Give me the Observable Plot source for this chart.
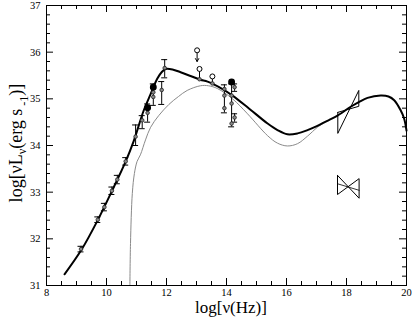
<!DOCTYPE html>
<html>
<head>
<meta charset="utf-8">
<script src="https://cdn.jsdelivr.net/npm/d3@7"></script>
<script src="https://cdn.jsdelivr.net/npm/@observablehq/plot@0.6"></script>
<style>
  html, body { margin: 0; padding: 0; background: white; }
  #chart { width: 414px; height: 320px; }
  #chart svg, #chart svg text { font-family: "Liberation Serif", "DejaVu Serif", serif !important; }
</style>
</head>
<body>
<div id="chart"></div>
<script>
// ---- tick labels ----
const xTickLabels = [8, 10, 12, 14, 16, 18, 20];
const yTickLabels = [31, 32, 33, 34, 35, 36, 37];

// ---- total model (thick black curve) ----
const modelNu = [8.6, 9.17, 9.7, 10.2, 10.64, 10.91, 11.24, 11.47, 11.69, 11.85, 11.97, 12.2, 12.47, 12.8, 13.13, 13.37, 13.87, 14.2, 14.7, 15.37, 15.7, 16.03, 16.37, 16.7, 17.03, 17.4, 17.7, 18.14, 18.41, 18.7, 19.14, 19.4, 19.59, 19.8, 19.92, 20.0];
const modelL  = [31.24, 31.77, 32.39, 33.05, 33.66, 34.1, 34.75, 35.1, 35.43, 35.58, 35.64, 35.63, 35.57, 35.49, 35.41, 35.37, 35.21, 35.07, 34.82, 34.47, 34.33, 34.24, 34.26, 34.33, 34.42, 34.54, 34.64, 34.83, 34.93, 35.02, 35.07, 35.05, 34.97, 34.76, 34.58, 34.32];

// ---- component model (thin grey curve) ----
const hostNu = [10.78, 10.8, 10.86, 10.93, 11.02, 11.13, 11.3, 11.47, 11.74, 12.08, 12.4, 12.69, 13.13, 13.4, 13.7, 14.2, 14.7, 15.37, 15.7, 16.03, 16.37, 16.7, 17.03, 17.3];
const hostL  = [31.0, 31.9, 32.97, 33.4, 33.66, 33.8, 34.12, 34.39, 34.64, 34.88, 35.05, 35.18, 35.28, 35.28, 35.22, 35.0, 34.68, 34.21, 34.05, 33.99, 34.04, 34.2, 34.39, 34.5];

// ---- radio points (with small error bars) ----
const radioNu  = [9.15, 9.71, 9.93, 10.18, 10.36, 10.64];
const radioL   = [31.78, 32.41, 32.68, 33.03, 33.27, 33.66];
const radioErr = [0.06, 0.06, 0.08, 0.08, 0.09, 0.08];

// ---- mm / IR / optical points with error bars ----
const barNu = [10.97, 11.19, 11.37, 11.56, 11.84, 11.94, 13.93, 14.17, 14.27, 14.27];
const barL  = [34.19, 34.54, 34.70, 35.04, 35.19, 35.66, 35.21, 35.07, 35.25, 34.60];
const barLo = [34.00, 34.36, 34.50, 34.86, 34.88, 35.45, 34.70, 34.40, 35.16, 34.50];
const barHi = [34.44, 34.64, 34.89, 35.32, 35.37, 35.84, 35.30, 35.32, 35.32, 34.68];

// ---- further measurements without own bars ----
const extraNu = [11.56, 13.93, 13.93, 14.17, 14.17, 13.1, 13.53];
const extraL  = [35.14, 35.07, 34.80, 34.90, 34.47, 35.42, 35.33];

// ---- filled circles ----
const filledNu = [11.37, 11.56, 14.17];
const filledL  = [34.81, 35.25, 35.36];

// ---- open circles (with drop line to model) ----
const openNu = [13.1, 13.53];
const openL  = [35.64, 35.48];
const openTo = [35.42, 35.33];

// ---- upper limit ----
const limNu = [13.02];
const limL  = [36.04];
const limTo = [35.80];

// ---- X-ray bow ties ----
const bowNuLeft  = [17.71, 17.70];
const bowNuRight = [18.41, 18.42];
const bowLeftLo  = [34.26, 32.95];
const bowLeftHi  = [34.71, 33.36];
const bowRightLo = [34.84, 32.87];
const bowRightHi = [35.18, 33.29];
const bowMidLeft  = [null, 33.18];
const bowMidRight = [null, 33.04];

// ---- build tables from arrays ----
const model = modelNu.map((v, i) => ({nu: v, L: modelL[i]}));
const host = hostNu.map((v, i) => ({nu: v, L: hostL[i]}));
const radio = radioNu.map((v, i) => ({nu: v, L: radioL[i], lo: radioL[i] - radioErr[i], hi: radioL[i] + radioErr[i]}));
const bars = barNu.map((v, i) => ({nu: v, L: barL[i], lo: barLo[i], hi: barHi[i]}));
const allBars = radio.concat(bars);
const extra = extraNu.map((v, i) => ({nu: v, L: extraL[i]}));
const filled = filledNu.map((v, i) => ({nu: v, L: filledL[i]}));
const open = openNu.map((v, i) => ({nu: v, L: openL[i], to: openTo[i]}));
const lim = limNu.map((v, i) => ({nu: v, L: limL[i], to: limTo[i]}));
const bowPts = [];
const bowMid = [];
bowNuLeft.forEach((nl, b) => {
  const nr = bowNuRight[b];
  bowPts.push({b, nu: nl, L: bowLeftHi[b]});
  bowPts.push({b, nu: nr, L: bowRightLo[b]});
  bowPts.push({b, nu: nr, L: bowRightHi[b]});
  bowPts.push({b, nu: nl, L: bowLeftLo[b]});
  bowPts.push({b, nu: nl, L: bowLeftHi[b]});
  if (bowMidLeft[b] != null) {
    bowMid.push({b, nu: nl, L: bowMidLeft[b]});
    bowMid.push({b, nu: nr, L: bowMidRight[b]});
  }
});

// ---- frame ticks ----
const W = 414, H = 320;
const mT = 5, mR = 8, mB = 35, mL = 46;
const innerW = W - mL - mR, innerH = H - mT - mB;
const xMajor = xTickLabels;
const xMinor = d3.range(8, 20.001, 0.5).filter(v => Math.abs(v / 2 - Math.round(v / 2)) > 1e-6);
const yMajor = yTickLabels;
const yMinor = d3.range(31, 37.001, 0.2).filter(v => Math.abs(v - Math.round(v)) > 1e-6);
const majLen = 7, minLen = 4;
const cap = 0.1;
const serif = "Liberation Serif";

const plot = Plot.plot({
  width: W, height: H,
  marginTop: mT, marginRight: mR, marginBottom: mB, marginLeft: mL,
  x: {domain: [8, 20]},
  y: {domain: [31, 37]},
  style: {fontFamily: serif, fontSize: "11px", background: "white", color: "black"},
  marks: [
    // inward ticks on all four sides
    Plot.tickX(xMajor, {x: d => d, insetTop: innerH - majLen, stroke: "black"}),
    Plot.tickX(xMinor, {x: d => d, insetTop: innerH - minLen, stroke: "black"}),
    Plot.tickX(xMajor, {x: d => d, insetBottom: innerH - majLen, stroke: "black"}),
    Plot.tickX(xMinor, {x: d => d, insetBottom: innerH - minLen, stroke: "black"}),
    Plot.tickY(yMajor, {y: d => d, insetRight: innerW - majLen, stroke: "black"}),
    Plot.tickY(yMinor, {y: d => d, insetRight: innerW - minLen, stroke: "black"}),
    Plot.tickY(yMajor, {y: d => d, insetLeft: innerW - majLen, stroke: "black"}),
    Plot.tickY(yMinor, {y: d => d, insetLeft: innerW - minLen, stroke: "black"}),
    Plot.axisX(xTickLabels, {tickSize: 0, tickPadding: 3, label: null, fontSize: 10.5, fontFamily: serif}),
    Plot.axisY(yTickLabels, {tickSize: 0, tickPadding: 6, label: null, fontSize: 10.5, fontFamily: serif}),
    // models
    Plot.line(host, {x: "nu", y: "L", stroke: "#8a8a8a", strokeWidth: 1, curve: "catmull-rom"}),
    Plot.line(model, {x: "nu", y: "L", stroke: "black", strokeWidth: 2, curve: "catmull-rom"}),
    // bow ties
    Plot.line(bowPts, {x: "nu", y: "L", z: "b", stroke: "black", strokeWidth: 1}),
    Plot.line(bowMid, {x: "nu", y: "L", z: "b", stroke: "black", strokeWidth: 0.8}),
    // error bars
    Plot.ruleX(allBars, {x: "nu", y1: "lo", y2: "hi", stroke: "black", strokeWidth: 1}),
    Plot.ruleY(allBars, {y: "lo", x1: d => d.nu - cap, x2: d => d.nu + cap, stroke: "black", strokeWidth: 1}),
    Plot.ruleY(allBars, {y: "hi", x1: d => d.nu - cap, x2: d => d.nu + cap, stroke: "black", strokeWidth: 1}),
    // drop lines and upper limit arrow
    Plot.ruleX(open, {x: "nu", y1: "L", y2: "to", stroke: "black", strokeWidth: 1}),
    Plot.arrow(lim, {x1: "nu", y1: "L", x2: "nu", y2: "to", insetStart: 3, headLength: 5, stroke: "black", strokeWidth: 1}),
    // points
    Plot.dot(allBars, {x: "nu", y: "L", r: 1.8, fill: "#888", stroke: "#222", strokeWidth: 0.8}),
    Plot.dot(extra, {x: "nu", y: "L", r: 1.8, fill: "#888", stroke: "#222", strokeWidth: 0.8}),
    Plot.dot(open, {x: "nu", y: "L", r: 2.5, fill: "white", stroke: "black", strokeWidth: 1}),
    Plot.dot(lim, {x: "nu", y: "L", r: 2.5, fill: "white", stroke: "black", strokeWidth: 1}),
    Plot.dot(filled, {x: "nu", y: "L", r: 2.7, fill: "black", stroke: "black"}),
    Plot.frame({stroke: "black", strokeWidth: 1})
  ]
});

const svg = d3.select(plot);
svg.selectAll("text").attr("font-family", serif);
// x-axis title
svg.append("text")
  .attr("x", 231).attr("y", 313)
  .attr("text-anchor", "middle")
  .attr("font-family", serif)
  .attr("font-size", 17)
  .attr("fill", "black")
  .text("log[ν(Hz)]");
// y-axis title
const yt = svg.append("text")
  .attr("transform", "translate(22,143) rotate(-90)")
  .attr("text-anchor", "middle")
  .attr("font-family", serif)
  .attr("font-size", 18)
  .attr("fill", "black");
yt.append("tspan").text("log[νL");
yt.append("tspan").attr("font-size", 12).attr("dy", 4).text("ν");
yt.append("tspan").attr("dy", -4).text("(erg s");
yt.append("tspan").attr("font-size", 12).attr("dy", 6).text(" -1");
yt.append("tspan").attr("dy", -6).text(")]");

document.getElementById("chart").appendChild(plot);
</script>
</body>
</html>
